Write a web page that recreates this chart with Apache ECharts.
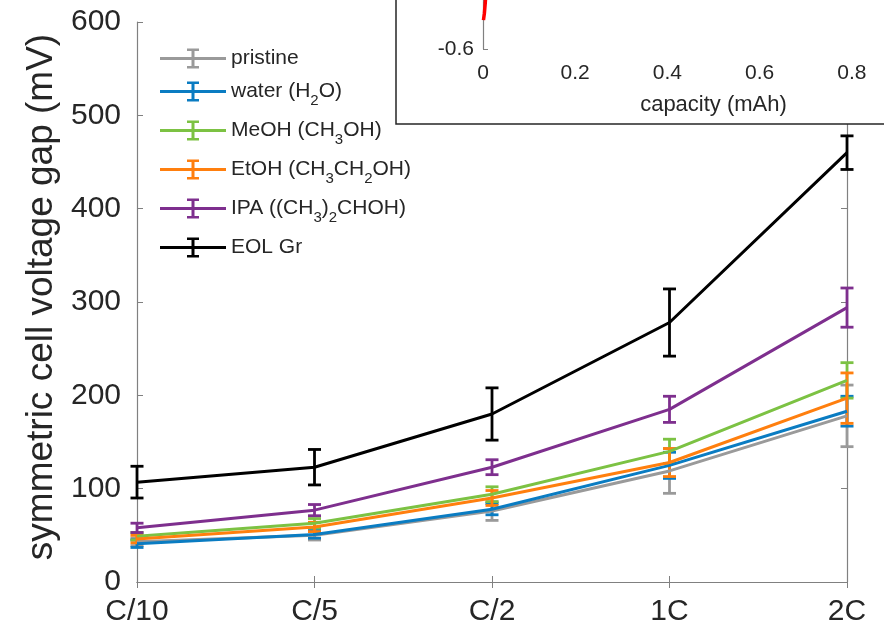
<!DOCTYPE html>
<html>
<head>
<meta charset="utf-8">
<script src="https://cdn.jsdelivr.net/npm/echarts@6/dist/echarts.min.js"></script>
<style>
html,body{margin:0;padding:0;background:#fff;}
#chart{width:884px;height:632px;}
</style>
</head>
<body>
<div id="chart"></div>
<script>
// ---- data ----
var categories = ['C/10', 'C/5', 'C/2', '1C', '2C'];
var seriesNames = ['pristine', 'water (H2O)', 'MeOH (CH3OH)', 'EtOH (CH3CH2OH)', 'IPA ((CH3)2CHOH)', 'EOL Gr'];
var pristine = [43, 50, 76, 119, 178];
var pristineErr = [4, 5, 10, 24, 33];
var water = [41, 51, 78, 125, 183];
var waterErr = [4, 4, 6, 14, 16];
var meoh = [49, 63, 94, 140, 216];
var meohErr = [4, 5, 8, 13, 19];
var etoh = [46, 59, 90, 128, 197];
var etohErr = [4, 5, 8, 15, 27];
var ipa = [58, 77, 123, 185, 294];
var ipaErr = [5, 6, 8, 14, 21];
var eol = [107, 123, 180, 278, 460];
var eolErr = [17, 19, 28, 36, 18];
var yTicks = {min: 0, max: 600, interval: 100};
// inset: capacity (mAh) vs voltage (V)
var insetCurve = [[0.001, -0.495], [0.003, -0.47], [0.005, -0.43], [0.007, -0.38]];
var insetX = {min: 0, max: 1, interval: 0.2};
var insetY = {min: -0.6, max: 0.6, interval: 0.2};

var colors = ['#9a9a9a', '#0a7cc2', '#7cc243', '#ff7f0e', '#7e2f8e', '#000000'];
var values = [pristine, water, meoh, etoh, ipa, eol];
var errs = [pristineErr, waterErr, meohErr, etohErr, ipaErr, eolErr];

var FONT = '"Liberation Sans", Arial, Helvetica, sans-serif';
var AX = '#808080';
var TXT = '#262626';

var iconPath = 'path://M0 8.5H66V11.5H0Z M31.5 1.5H34.5V18.5H31.5Z M27 0H39V2.6H27Z M27 17.4H39V20H27Z';

var series = [];
values.forEach(function (vals, k) {
  var c = colors[k];
  series.push({
    name: seriesNames[k],
    type: 'line',
    xAxisIndex: 0, yAxisIndex: 0,
    data: vals,
    symbol: 'none',
    lineStyle: {color: c, width: 3},
    itemStyle: {color: c},
    z: 2,
    silent: true
  });
  series.push({
    name: seriesNames[k] + '_err',
    type: 'custom',
    xAxisIndex: 0, yAxisIndex: 0,
    data: vals.map(function (v, i) { return [i, v, v - errs[k][i], v + errs[k][i]]; }),
    encode: {x: 0, y: [1, 2, 3]},
    z: 2,
    silent: true,
    renderItem: function (params, api) {
      var lo = api.coord([api.value(0), api.value(2)]);
      var hi = api.coord([api.value(0), api.value(3)]);
      var x = lo[0];
      var w = 6.5;
      var st = {stroke: c, lineWidth: 2.8, fill: null};
      return {type: 'group', children: [
        {type: 'line', shape: {x1: x, y1: hi[1], x2: x, y2: lo[1]}, style: st},
        {type: 'line', shape: {x1: x - w, y1: hi[1], x2: x + w, y2: hi[1]}, style: st},
        {type: 'line', shape: {x1: x - w, y1: lo[1], x2: x + w, y2: lo[1]}, style: st}
      ]};
    }
  });
});
series.push({
  name: 'inset',
  type: 'line',
  xAxisIndex: 2, yAxisIndex: 2,
  data: insetCurve,
  symbol: 'none',
  lineStyle: {color: '#ff0000', width: 3.5},
  z: 20,
  silent: true
});

function fmtName(n) {
  var out = '';
  var parts = n.split(/(\d)/);
  parts.forEach(function (p) {
    if (p === '') return;
    if (/^\d$/.test(p)) out += '{sub|' + p + '}';
    else out += '{n|' + p + '}';
  });
  return out;
}

var option = {
  animation: false,
  backgroundColor: '#fff',
  textStyle: {fontFamily: FONT},
  grid: [
    {left: 137, right: 37, top: 22, bottom: 50, show: false, containLabel: false, outerBoundsMode: 'none'},
    {left: 483, top: -281, width: 461, height: 330, show: false, containLabel: false, outerBoundsMode: 'none'}
  ],
  legend: {
    orient: 'vertical',
    left: 160, top: 48, padding: 0,
    itemWidth: 66, itemHeight: 20, itemGap: 12,
    data: seriesNames.map(function (n) { return {name: n, icon: iconPath}; }),
    formatter: fmtName,
    selectedMode: false,
    textStyle: {
      color: TXT, fontSize: 21, fontFamily: FONT,
      rich: {
        n: {fontSize: 21, lineHeight: 26, color: TXT, fontFamily: FONT},
        sub: {fontSize: 15, padding: [18, 0, 0, 0], color: TXT, fontFamily: FONT}
      }
    }
  },
  xAxis: [
    {
      gridIndex: 0, type: 'category', data: categories, boundaryGap: false, position: 'bottom',
      axisLine: {lineStyle: {color: AX, width: 1.2}},
      axisTick: {inside: true, length: 6, alignWithLabel: true, lineStyle: {color: AX}},
      axisLabel: {fontSize: 30, color: TXT, margin: 15, fontFamily: FONT},
      splitLine: {show: false}
    },
    {
      gridIndex: 0, type: 'category', data: categories, boundaryGap: false, position: 'top',
      axisLine: {lineStyle: {color: AX, width: 1.2}},
      axisTick: {inside: true, length: 6, lineStyle: {color: AX}},
      axisLabel: {show: false},
      splitLine: {show: false}
    },
    {
      gridIndex: 1, type: 'value', min: insetX.min, max: insetX.max, interval: insetX.interval, z: 20,
      axisLine: {show: true, lineStyle: {color: AX, width: 1.2}},
      axisTick: {show: true, inside: true, length: 5, lineStyle: {color: AX}},
      axisLabel: {fontSize: 21, color: TXT, margin: 14, fontFamily: FONT},
      splitLine: {show: false},
      name: 'capacity (mAh)', nameLocation: 'middle', nameGap: 45,
      nameTextStyle: {fontSize: 22, color: TXT, fontFamily: FONT}
    }
  ],
  yAxis: [
    {
      gridIndex: 0, type: 'value', min: yTicks.min, max: yTicks.max, interval: yTicks.interval, position: 'left',
      axisLine: {show: true, lineStyle: {color: AX, width: 1.2}},
      axisTick: {show: true, inside: true, length: 6, lineStyle: {color: AX}},
      axisLabel: {fontSize: 30, color: TXT, margin: 16, fontFamily: FONT},
      splitLine: {show: false},
      name: 'symmetric cell voltage gap (mV)', nameLocation: 'middle', nameGap: 68, nameRotate: 90,
      nameTextStyle: {fontSize: 37, color: TXT, fontFamily: FONT, padding: [0, 0, 0, 10]}
    },
    {
      gridIndex: 0, type: 'value', min: yTicks.min, max: yTicks.max, interval: yTicks.interval, position: 'right',
      axisLine: {show: true, lineStyle: {color: AX, width: 1.2}},
      axisTick: {show: true, inside: true, length: 6, lineStyle: {color: AX}},
      axisLabel: {show: false},
      splitLine: {show: false}
    },
    {
      gridIndex: 1, type: 'value', min: insetY.min, max: insetY.max, interval: insetY.interval, z: 20,
      axisLine: {show: true, lineStyle: {color: AX, width: 1.2}},
      axisTick: {show: true, inside: true, length: 5, lineStyle: {color: AX}},
      axisLabel: {fontSize: 21, color: TXT, margin: 9, fontFamily: FONT, padding: [8, 0, 0, 0]},
      splitLine: {show: false}
    }
  ],
  graphic: [
    {
      type: 'rect', z: 10, silent: true,
      shape: {x: 396, y: -10, width: 600, height: 134},
      style: {fill: '#ffffff', stroke: '#262626', lineWidth: 1.5}
    }
  ],
  series: series
};

var chart = echarts.init(document.getElementById('chart'), null, {renderer: 'canvas'});
chart.setOption(option);
</script>
</body>
</html>
